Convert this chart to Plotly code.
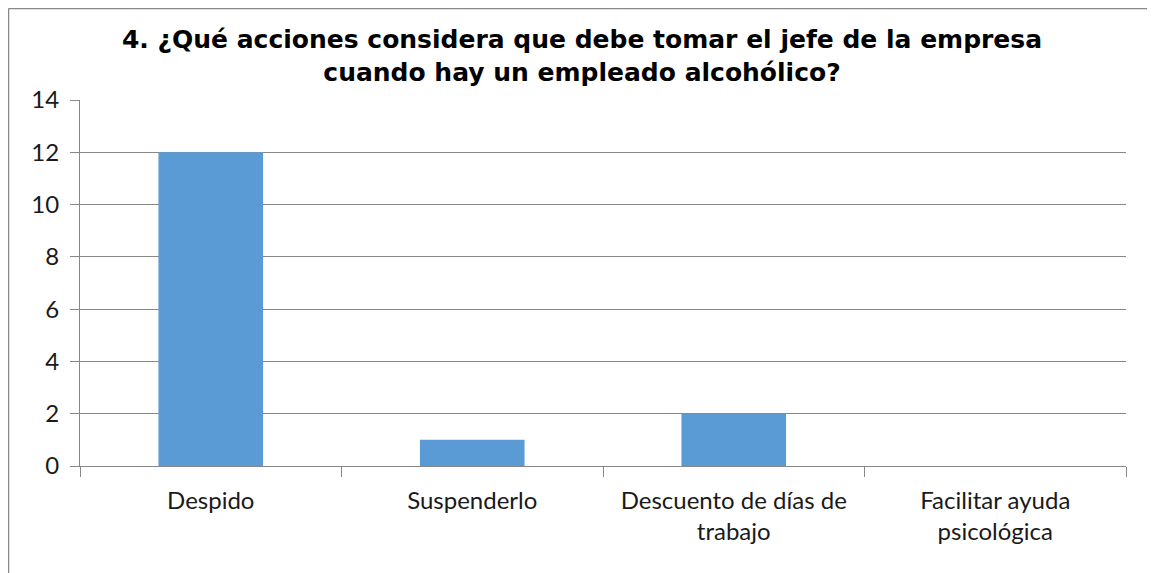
import plotly.graph_objects as go

categories = ["Despido", "Suspenderlo", "Descuento de días de<br>trabajo", "Facilitar ayuda<br>psicológica"]
values = [12, 1, 2, 0]
y_ticks = [0, 2, 4, 6, 8, 10, 12, 14]
title_text = "4. ¿Qué acciones considera que debe tomar el jefe de la empresa<br>cuando hay un empleado alcohólico?"

# page has an 8px body margin; compensate so plot area is at 80..1126 x 100..466
L, R, T, B = 72, 37, 92, 115
W, H = 1155, 573
pw, ph = W - L - R, H - T - B

fig = go.Figure(go.Bar(
    x=categories, y=values, width=0.4,
    marker=dict(color="#5B9BD5", line=dict(width=0)),
))

grid = "#878787"
lab = "#1a1a1a"
fig.update_layout(
    width=W, height=H,
    margin=dict(l=L, r=R, t=T, b=B),
    paper_bgcolor="white", plot_bgcolor="white",
    showlegend=False,
    title=dict(text=title_text, x=(582 - 8) / W, xref="container", xanchor="center",
               y=1 - 40 / H, yref="container", yanchor="top",
               font=dict(family="DejaVu Sans", size=25, color="black", weight="bold")),
    font=dict(family="Lato", size=24, color=lab),
    xaxis=dict(type="category", showgrid=False, showline=True, linecolor=grid, linewidth=1,
               ticks="outside", tickson="boundaries", ticklen=10, tickcolor=grid,
               ticklabelstandoff=13,
               tickfont=dict(family="Lato", size=24, color=lab)),
    yaxis=dict(range=[0, 14], tickvals=y_ticks, showgrid=True, gridcolor=grid, gridwidth=1,
               showline=True, linecolor=grid, linewidth=1, zeroline=False,
               ticks="outside", ticklen=9, tickcolor=grid, ticklabelstandoff=6,
               tickfont=dict(family="Lato", size=24, color=lab)),
    shapes=[
        dict(type="line", xref="paper", yref="paper",
             x0=(0.5 - L) / pw, x1=(0.5 - L) / pw, y0=(H - B - H) / ph, y1=(H - B - 0.5) / ph,
             line=dict(color="#888888", width=1.5)),
        dict(type="line", xref="paper", yref="paper",
             x0=(0.5 - L) / pw, x1=(W - L) / pw, y0=(H - B - 0.5) / ph, y1=(H - B - 0.5) / ph,
             line=dict(color="#888888", width=1.5)),
    ],
)

fig.write_html("out.html")
